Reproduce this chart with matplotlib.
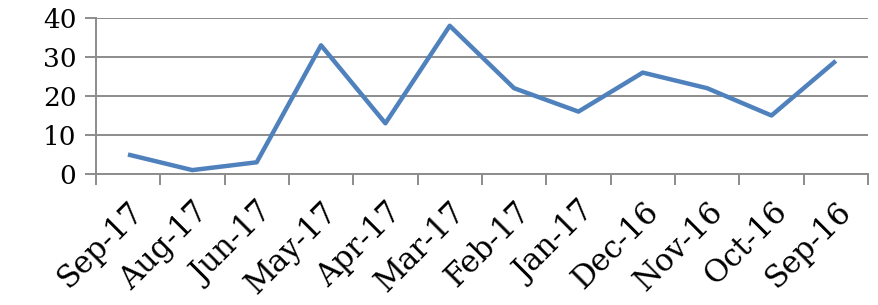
import numpy as np
import matplotlib.pyplot as plt

months = ["Sep-17", "Aug-17", "Jun-17", "May-17", "Apr-17", "Mar-17",
          "Feb-17", "Jan-17", "Dec-16", "Nov-16", "Oct-16", "Sep-16"]
values = [5, 1, 3, 33, 13, 38, 22, 16, 26, 22, 15, 29]
y_ticks = [0, 10, 20, 30, 40]

plt.rcParams["font.family"] = "DejaVu Serif"

fig = plt.figure(figsize=(8.79, 3.05), dpi=100)
ax = fig.add_axes([0.109, 0.4295, 0.8785, 0.5115])

x = np.arange(len(months))
ax.plot(x, values, color="#4F81BD", lw=3.2, solid_capstyle="butt", zorder=3)

ax.set_xlim(-0.5, len(months) - 0.5)
ax.set_ylim(0, 40)
ax.set_yticks(y_ticks)
ax.set_yticklabels([str(v) for v in y_ticks], fontsize=19)
ax.yaxis.grid(True, color="#8c8c8c", lw=1.4)
ax.set_axisbelow(True)

ax.set_xticks(x)
ax.set_xticklabels(months, rotation=45, ha="right", va="top",
                   rotation_mode="anchor", fontsize=22)
ax.set_xticks(np.arange(-0.5, len(months)), minor=True)
ax.tick_params(axis="x", which="major", length=0, pad=16)
ax.tick_params(axis="x", which="minor", length=8, width=1.4, color="#8c8c8c")
ax.tick_params(axis="y", length=8, width=1.4, color="#8c8c8c", pad=6)

for side in ["top", "right"]:
    ax.spines[side].set_visible(False)
for side in ["left", "bottom"]:
    ax.spines[side].set_color("#8c8c8c")
    ax.spines[side].set_linewidth(1.4)

fig.savefig("out.png", dpi=100)
